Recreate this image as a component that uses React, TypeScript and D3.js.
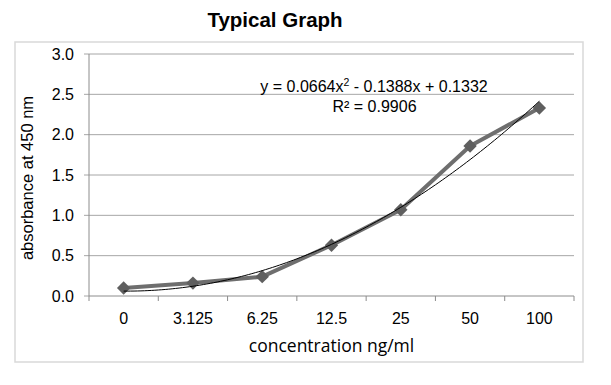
import React from "react";
import * as d3 from "d3";

const categories = ["0", "3.125", "6.25", "12.5", "25", "50", "100"];
const absorbance = [0.1, 0.16, 0.24, 0.63, 1.07, 1.86, 2.33];
const yTicks = [0, 0.5, 1, 1.5, 2, 2.5, 3];
// trendline coefficients as printed on the chart: a*x^2 + b*x + c
const trendCoef = [0.0664, -0.1388, 0.1332];
const equationText = ["y = 0.0664x", "2", " - 0.1388x + 0.1332"];
const r2Text = "R² = 0.9906";

const W = 611;
const H = 385;
const plot = { left: 89, right: 574, top: 54, bottom: 296 };
const font = "Liberation Sans, Arial, sans-serif";

export default function App() {
  const x = d3
    .scaleBand<string>()
    .domain(categories)
    .range([plot.left, plot.right])
    .padding(0);
  const y = d3.scaleLinear().domain([0, 3]).range([plot.bottom, plot.top]);
  const cx = (i: number) => (x(categories[i]) as number) + x.bandwidth() / 2;

  const line = d3
    .line<number>()
    .x((_, i) => cx(i))
    .y((d) => y(d));

  // trend curve over category index 1..7 (Excel uses x = 1..n)
  const steps = d3.range(1, 7.001, 0.05);
  const trend = d3
    .line<number>()
    .x((t) => cx(0) + (t - 1) * x.bandwidth())
    .y((t) => y(trendCoef[0] * t * t + trendCoef[1] * t + trendCoef[2]));

  const diamond = d3.symbol().type(d3.symbolSquare).size(90)() as string;
  const tickEdges = categories.map((c) => x(c) as number).concat([plot.right]);

  return (
    <svg width={W} height={H} style={{ position: "absolute", left: 0, top: 0 }}>
      <rect x={0} y={0} width={W} height={H} fill="#fff" />
      <rect x={15} y={42} width={568} height={320} fill="#fff" stroke="#d9d9d9" strokeWidth={1.5} />
      <text x={275} y={27} textAnchor="middle" fontFamily={font} fontWeight="bold" fontSize={20.5} fill="#000">
        Typical Graph
      </text>

      {yTicks.map((t) => (
        <g key={t}>
          <line x1={plot.left - 5} x2={t > 0 ? plot.right : plot.left} y1={y(t)} y2={y(t)} stroke="#a6a6a6" strokeWidth={1} />
          <text x={74} y={y(t)} dy="0.35em" textAnchor="end" fontFamily={font} fontSize={16} fill="#000">
            {t.toFixed(1)}
          </text>
        </g>
      ))}

      <line x1={plot.left} x2={plot.left} y1={plot.top} y2={plot.bottom} stroke="#8c8c8c" strokeWidth={1} />
      <line x1={plot.left} x2={plot.right} y1={plot.bottom} y2={plot.bottom} stroke="#8c8c8c" strokeWidth={1} />
      {tickEdges.map((e, i) => (
        <line key={i} x1={e} x2={e} y1={plot.bottom} y2={plot.bottom + 5} stroke="#8c8c8c" strokeWidth={1} />
      ))}
      {categories.map((c, i) => (
        <text key={c} x={cx(i)} y={318} dy="0.35em" textAnchor="middle" fontFamily={font} fontSize={16} fill="#000">
          {c}
        </text>
      ))}

      <text
        x={(plot.left + plot.right) / 2}
        y={346}
        dy="0.35em"
        textAnchor="middle"
        fontFamily="Open Sans, sans-serif"
        fontSize={17.5}
        fill="#000"
      >
        concentration ng/ml
      </text>
      <text
        transform={`translate(27,178) rotate(-90)`}
        dy="0.35em"
        textAnchor="middle"
        fontFamily={font}
        fontSize={16.5}
        fill="#000"
      >
        absorbance at 450 nm
      </text>

      <path d={line(absorbance) as string} fill="none" stroke="#6e6e6e" strokeWidth={4} strokeLinejoin="round" />
      {absorbance.map((v, i) => (
        <path key={i} d={diamond} transform={`translate(${cx(i)},${y(v)}) rotate(45)`} fill="#5f5f5f" />
      ))}
      <path d={trend(steps) as string} fill="none" stroke="#000" strokeWidth={1} />

      <text x={374} y={91.5} textAnchor="middle" fontFamily={font} fontSize={16} fill="#000">
        {equationText[0]}
        <tspan dy={-6} fontSize={10.5}>{equationText[1]}</tspan>
        <tspan dy={6}>{equationText[2]}</tspan>
      </text>
      <text x={374.5} y={111.5} textAnchor="middle" fontFamily={font} fontSize={16} fill="#000">
        {r2Text}
      </text>
    </svg>
  );
}
